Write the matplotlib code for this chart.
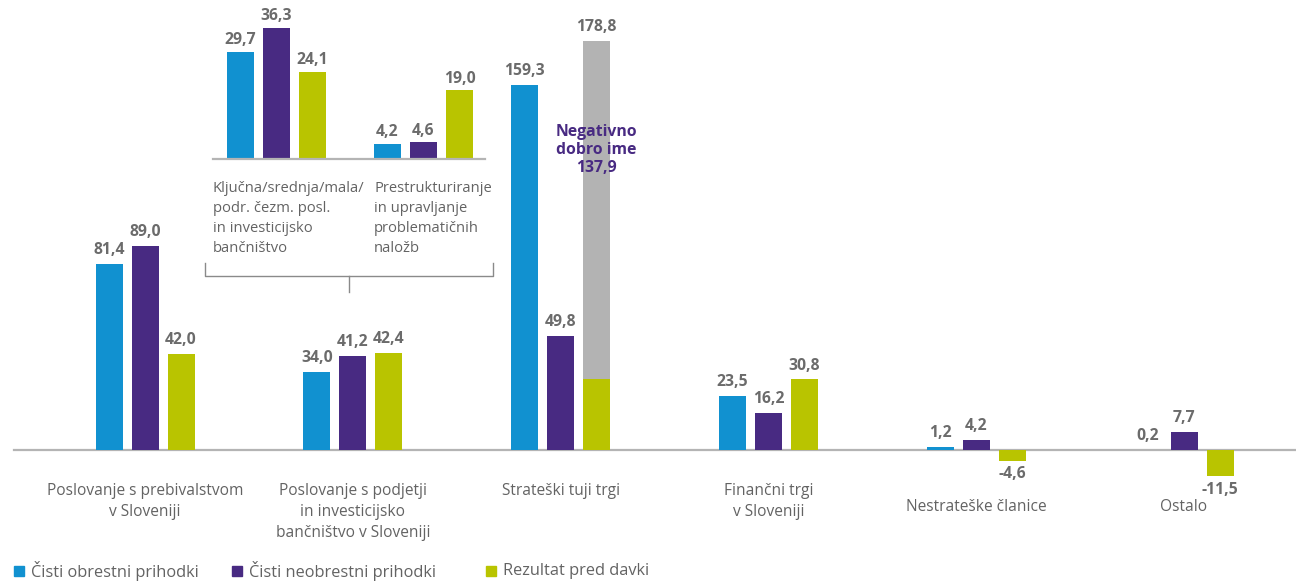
import matplotlib.pyplot as plt
from matplotlib.patches import Rectangle
from matplotlib.lines import Line2D
import numpy as np

plt.rcParams['font.family'] = ['Open Sans', 'DejaVu Sans']

# --- DATA ---
categories = ["Poslovanje s prebivalstvom\nv Sloveniji",
              "Poslovanje s podjetji\nin investicijsko\nbančništvo v Sloveniji",
              "Strateški tuji trgi",
              "Finančni trgi\nv Sloveniji",
              "Nestrateške članice",
              "Ostalo"]
obrestni = [81.4, 34.0, 159.3, 23.5, 1.2, 0.2]
neobrestni = [89.0, 41.2, 49.8, 16.2, 4.2, 7.7]
rezultat = [42.0, 42.4, 30.9, 30.8, -4.6, -11.5]   # strateski: green part as drawn
strat_total = 178.8
neg_goodwill = 137.9

inset_categories = ["Ključna/srednja/mala/\npodr. čezm. posl.\nin investicijsko\nbančništvo",
                    "Prestrukturiranje\nin upravljanje\nproblematičnih\nnaložb"]
inset_obrestni = [29.7, 4.2]
inset_neobrestni = [36.3, 4.6]
inset_rezultat = [24.1, 19.0]

series_names = ["Čisti obrestni prihodki", "Čisti neobrestni prihodki", "Rezultat pred davki"]

BLUE = "#1191d0"
PURPLE = "#482a82"
GREEN = "#b9c400"
GREY = "#b3b3b3"
VAL_C = "#6b6b6b"
TXT_C = "#636363"
colors = [BLUE, PURPLE, GREEN]

VAL_FS = 11.3
CAT_FS = 11.2

W, H = 1296, 583
fig = plt.figure(figsize=(W / 100, H / 100), dpi=100)


def fmt(v):
    return f"{v:.1f}".replace(".", ",")


# --- main chart ---
ax = fig.add_axes([0, 0, 1, 1])
ax.axis("off")
px_per_unit = 2.29
base_px = 450
ax.set_ylim(-(H - base_px) / px_per_unit, base_px / px_per_unit)
step, x0 = 207.8, 145.0
ax.set_xlim(-x0 / step, (W - x0) / step)
bw = 27 / step
off = 36 / step

x = np.arange(len(categories))
ax.plot([(14 - x0) / step, (W - x0) / step], [0, 0], color="#b4b4b4", lw=1.6, zorder=1)

# grey bar behind green for strateski tuji trgi
ax.bar(x[2] + off, strat_total, bw, color=GREY, zorder=2)

for k, vals in enumerate([obrestni, neobrestni, rezultat]):
    xs = x + (k - 1) * off
    ax.bar(xs, vals, bw, color=colors[k], zorder=3)
    for xi, v, i in zip(xs, vals, range(len(vals))):
        if k == 2 and i == 2:
            continue
        if v >= 0:
            ax.text(xi, v + 2.6, fmt(v), ha="center", va="bottom", fontsize=VAL_FS,
                    fontweight="bold", color=VAL_C)
        else:
            ax.text(xi, v - 2.6, fmt(v), ha="center", va="top", fontsize=VAL_FS,
                    fontweight="bold", color=VAL_C)

ax.text(x[2] + off, strat_total + 2.6, fmt(strat_total), ha="center", va="bottom",
        fontsize=VAL_FS, fontweight="bold", color=VAL_C)
ax.text(x[2] + off, 131, "Negativno\ndobro ime\n" + fmt(neg_goodwill), ha="center",
        va="center", fontsize=VAL_FS, fontweight="bold", color=PURPLE,
        linespacing=1.2, zorder=4)

for i, (xi, lab) in enumerate(zip(x, categories)):
    ytop = -14.5 if i < 4 else -21.5
    ax.text(xi, ytop, lab, ha="center", va="top", fontsize=CAT_FS, color=TXT_C,
            linespacing=1.4)

# --- inset chart ---
in_l, in_r, in_base = 213, 485, 159
in_scale = 3.61
axi = fig.add_axes([in_l / W, (H - in_base) / H, (in_r - in_l) / W, in_base / H])
axi.axis("off")
axi.set_ylim(0, in_base / in_scale)
istep, ix0 = 147, 276.5
axi.set_xlim((in_l - ix0) / istep, (in_r - ix0) / istep)
ibw = 27 / istep
ioff = 36 / istep
xi_ = np.arange(len(inset_categories))
axi.axhline(0, color="#b4b4b4", lw=1.6, clip_on=False)
for k, vals in enumerate([inset_obrestni, inset_neobrestni, inset_rezultat]):
    xs = xi_ + (k - 1) * ioff
    axi.bar(xs, vals, ibw, color=colors[k])
    for xx, v in zip(xs, vals):
        axi.text(xx, v + 1.0, fmt(v), ha="center", va="bottom", fontsize=VAL_FS,
                 fontweight="bold", color=VAL_C, clip_on=False)

for lab, lx in zip(inset_categories, [213, 374]):
    fig.text(lx / W, 1 - 181 / H, lab, ha="left", va="top", fontsize=10.6,
             color=TXT_C, linespacing=1.45)

# bracket
bc = "#8a8a8a"
fig.add_artist(Line2D([205 / W, 205 / W, 493 / W, 493 / W],
                      [1 - 263 / H, 1 - 276 / H, 1 - 276 / H, 1 - 263 / H],
                      color=bc, lw=1))
fig.add_artist(Line2D([349 / W, 349 / W], [1 - 276 / H, 1 - 292 / H], color=bc, lw=1))

# --- legend ---
for name, c, sx in zip(series_names, colors, [14, 232, 486]):
    fig.add_artist(Rectangle((sx / W, 1 - 576 / H), 10 / W, 10 / H, color=c,
                             transform=fig.transFigure))
    fig.text((sx + 17) / W, 1 - 571 / H, name, ha="left", va="center",
             fontsize=11.8, color=TXT_C)

fig.savefig("out.png", dpi=100)
